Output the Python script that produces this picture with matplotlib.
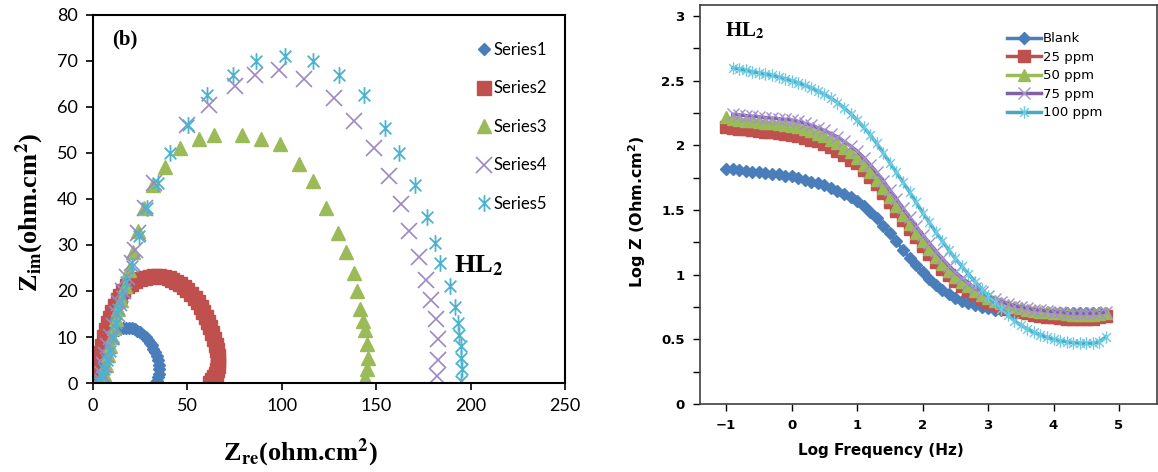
import matplotlib
matplotlib.use("Agg")
import matplotlib.pyplot as plt
from matplotlib.path import Path

plt.rcParams["font.family"] = ["Lato", "DejaVu Sans"]
plt.rcParams["mathtext.fontset"] = "stix"

# ---------------- Nyquist data (left panel) ----------------
s1_re = [1.5, 2, 2.5, 3, 3.5, 4, 5, 6, 7, 8, 9, 10, 11.5, 13, 14.5, 16, 17.5, 19, 20.5, 22,
         23.5, 25, 26.5, 28, 29, 30, 31, 32, 33, 33.8, 34.5, 35, 35.2, 35, 34.5, 33.8, 33]
s1_im = [0, 1.5, 3, 4.2, 5.3, 6.3, 7.5, 8.3, 9, 9.7, 10.3, 10.8, 11.3, 11.6, 11.9, 12, 12, 12, 11.9, 11.7,
         11.3, 11, 10.5, 9.9, 9.4, 8.8, 8.2, 7.5, 6.7, 5.8, 4.9, 3.9, 3, 2, 1.2, 0.5, 0]

s2_re = [2.5, 3, 3.5, 4, 4.5, 5, 6, 7, 8, 9, 10, 11.5, 13, 14.5, 16, 18, 20, 22.5, 25, 27.5,
         30, 32.5, 35, 37.5, 40, 42, 44, 46, 48, 50, 52, 54, 55.5, 57, 58.5, 60, 61, 62, 63, 64,
         65, 65.5, 66, 66, 66, 65.5, 65, 64, 63, 62]
s2_im = [0, 2, 3.5, 5, 6.5, 8, 10, 11.5, 13, 14.2, 15.5, 16.8, 18, 19, 20, 21, 21.5, 22.2, 22.6, 22.9,
         23.1, 23.2, 23.2, 23.1, 22.8, 22.4, 22, 21.5, 20.9, 20.2, 19.4, 18.5, 17.6, 16.6, 15.5, 14.4, 13.3, 12.1, 10.9, 9.6,
         8.3, 7.1, 5.9, 4.8, 3.8, 2.9, 2, 1.2, 0.6, 0]

s3_re = [5, 6, 7, 8, 9, 10, 11, 12, 13.5, 15, 17, 19, 21, 24, 27, 32, 38, 46, 56, 64,
         79, 89, 99, 109, 116.5, 123.5, 130, 134, 138.5, 140, 141.5, 143, 144, 145, 145.5, 145, 144]
s3_im = [0.5, 2, 4, 6, 8, 10, 12, 14, 16, 18, 21, 24.5, 28.5, 33, 38, 43, 47, 51, 53, 54,
         54, 53, 52, 47.5, 44, 38, 32.5, 28.5, 24, 20, 16, 13.5, 11.5, 8.5, 5.5, 3, 1]

s4_re = [4, 5, 6, 7, 8, 9.5, 11, 12.5, 14, 16, 18, 20.5, 22, 24, 27.5, 32.5, 50, 61.5, 75, 86,
         98.5, 112, 127.5, 138, 149, 157, 163, 167.5, 172.5, 176.5, 179, 181.5, 182.5, 182.5, 182]
s4_im = [0.5, 2, 4, 6, 8, 10, 12.5, 15, 17.5, 20, 23, 26, 29, 32.5, 38, 43.5, 56, 60.5, 64.5, 67,
         68, 66, 62, 57, 51, 45, 39, 33, 27.5, 22.5, 18, 14, 9.5, 5, 1.5]

s5_re = [3, 5, 6, 7.5, 9, 10.5, 12, 13.5, 15.5, 17.5, 20.5, 24.5, 28.5, 34.5, 41, 50.5, 60.5, 74, 86.5,
         101.5, 116.5, 130.5, 143.5, 154.5, 162, 170.5, 177, 181, 184, 189, 191.5, 193.5, 194, 195, 195, 195.5, 195]
s5_im = [0.2, 1.5, 3, 5, 7, 10, 13, 16, 19, 22, 25.5, 32, 38, 43.5, 50, 56, 62.5, 67, 70,
         71, 70, 67, 62.5, 55.5, 50, 43, 36, 30.5, 26, 21, 16.5, 13, 10.5, 8, 5.5, 3, 0.5]

series_names = ["Series1", "Series2", "Series3", "Series4", "Series5"]

# ---------------- Bode data (right panel) ----------------
log_freq = [-1.0, -0.9, -0.8, -0.7, -0.6, -0.5, -0.4, -0.3, -0.2, -0.1,
            0.0, 0.1, 0.2, 0.3, 0.4, 0.5, 0.6, 0.7, 0.8, 0.9,
            1.0, 1.1, 1.2, 1.3, 1.4, 1.5, 1.6, 1.7, 1.8, 1.9,
            2.0, 2.1, 2.2, 2.3, 2.4, 2.5, 2.6, 2.7, 2.8, 2.9,
            3.0, 3.1, 3.2, 3.3, 3.4, 3.5, 3.6, 3.7, 3.8, 3.9,
            4.0, 4.1, 4.2, 4.3, 4.4, 4.5, 4.6, 4.7, 4.8]

logz_blank = [1.82, 1.815, 1.81, 1.80, 1.795, 1.79, 1.785, 1.78, 1.775, 1.765,
              1.76, 1.75, 1.735, 1.72, 1.705, 1.69, 1.67, 1.65, 1.62, 1.60,
              1.57, 1.53, 1.485, 1.435, 1.38, 1.32, 1.26, 1.19, 1.13, 1.075,
              1.02, 0.97, 0.92, 0.88, 0.85, 0.82, 0.80, 0.78, 0.765, 0.75,
              0.74, 0.73, 0.725, 0.72, 0.715, 0.71, 0.705, 0.70, 0.70, 0.70,
              0.70, 0.70, 0.70, 0.70, 0.70, 0.70, 0.70, 0.70, 0.70]
logz_25 = [2.14, 2.135, 2.13, 2.125, 2.115, 2.11, 2.105, 2.10, 2.095, 2.085,
           2.08, 2.07, 2.06, 2.045, 2.03, 2.01, 1.985, 1.955, 1.925, 1.89,
           1.86, 1.81, 1.755, 1.70, 1.63, 1.56, 1.49, 1.42, 1.355, 1.29,
           1.22, 1.16, 1.10, 1.04, 0.995, 0.95, 0.91, 0.875, 0.845, 0.815,
           0.79, 0.77, 0.75, 0.735, 0.72, 0.71, 0.70, 0.69, 0.68, 0.675,
           0.67, 0.665, 0.66, 0.655, 0.655, 0.655, 0.66, 0.67, 0.68]
logz_50 = [2.22, 2.20, 2.195, 2.19, 2.185, 2.18, 2.175, 2.17, 2.165, 2.16,
           2.15, 2.14, 2.13, 2.11, 2.09, 2.07, 2.045, 2.015, 1.98, 1.945,
           1.90, 1.85, 1.795, 1.735, 1.67, 1.60, 1.53, 1.46, 1.39, 1.325,
           1.26, 1.195, 1.135, 1.08, 1.03, 0.985, 0.945, 0.91, 0.875, 0.845,
           0.82, 0.80, 0.78, 0.765, 0.75, 0.74, 0.73, 0.72, 0.715, 0.71,
           0.705, 0.70, 0.695, 0.69, 0.69, 0.69, 0.69, 0.695, 0.70]
logz_75 = [2.24, 2.235, 2.23, 2.225, 2.22, 2.215, 2.21, 2.205, 2.20,
           2.195, 2.185, 2.17, 2.155, 2.135, 2.115, 2.09, 2.065, 2.03, 1.995,
           1.955, 1.905, 1.85, 1.79, 1.725, 1.655, 1.585, 1.515, 1.445, 1.375,
           1.31, 1.245, 1.185, 1.125, 1.07, 1.02, 0.975, 0.935, 0.895, 0.865,
           0.835, 0.81, 0.79, 0.775, 0.76, 0.75, 0.74, 0.73, 0.725, 0.72,
           0.715, 0.71, 0.705, 0.70, 0.70, 0.70, 0.70, 0.705, 0.71]
logz_100 = [2.60, 2.59, 2.58, 2.57, 2.56, 2.55, 2.54, 2.53, 2.515,
            2.50, 2.485, 2.465, 2.445, 2.42, 2.395, 2.365, 2.33, 2.29, 2.245,
            2.195, 2.14, 2.08, 2.015, 1.94, 1.865, 1.79, 1.715, 1.64, 1.56,
            1.48, 1.405, 1.33, 1.26, 1.19, 1.125, 1.065, 1.005, 0.945, 0.89,
            0.835, 0.785, 0.735, 0.69, 0.645, 0.61, 0.58, 0.555, 0.535, 0.515,
            0.50, 0.49, 0.48, 0.475, 0.47, 0.47, 0.47, 0.48, 0.52]

conc_labels = ["Blank", "25 ppm", "50 ppm", "75 ppm", "100 ppm"]

# asterisk marker like the spreadsheet one (x with a vertical bar)
star = Path([(0, -1), (0, 1), (-0.7, -0.7), (0.7, 0.7), (-0.7, 0.7), (0.7, -0.7)],
            [Path.MOVETO, Path.LINETO, Path.MOVETO, Path.LINETO, Path.MOVETO, Path.LINETO])

fig = plt.figure(figsize=(11.58, 4.72), dpi=100)
W, H = 1158, 472

# ---------------- left: Nyquist ----------------
ax1 = fig.add_axes([93 / W, 1 - 383 / H, (565 - 93) / W, (383 - 15) / H])
ax1.plot(s1_re, s1_im, ls="none", marker="D", ms=6, color="#4a7ebb", label=series_names[0])
ax1.plot(s2_re, s2_im, ls="none", marker="s", ms=10, color="#c0504d", label=series_names[1])
ax1.plot(s3_re, s3_im, ls="none", marker="^", ms=10, color="#9bbb59", label=series_names[2])
ax1.plot(s4_re, s4_im, ls="none", marker="x", ms=11, mew=1.2, color="#9d88c4", label=series_names[3])
ax1.plot(s5_re, s5_im, ls="none", marker=star, ms=12, mew=1.3, color="#4bb3cf", label=series_names[4])

ax1.set_xlim(0, 250)
ax1.set_ylim(0, 80)
ax1.set_xticks(range(0, 251, 50))
ax1.set_yticks(range(0, 81, 10))
ax1.tick_params(direction="out", length=5, width=1.2, labelsize=13, pad=6)
for sp in ax1.spines.values():
    sp.set_linewidth(1.5)

serif_bold = dict(family="Liberation Serif", fontweight="bold", fontsize=19)
fig.text(300 / W, 1 - 453 / H, r"Z$_{\mathbf{re}}$(ohm.cm$^{\mathbf{2}}$)",
         ha="center", va="center", **serif_bold)
fig.text(30 / W, 1 - 212 / H, r"Z$_{\mathbf{im}}$(ohm.cm$^{\mathbf{2}}$)",
         ha="center", va="center", rotation=90, **serif_bold)
ax1.text(0.04, 0.92, "(b)", transform=ax1.transAxes, fontsize=15, fontweight="bold",
         family="Liberation Serif")
ax1.text(0.765, 0.3, r"HL$_{\mathbf{2}}$", transform=ax1.transAxes, **serif_bold)
ax1.legend(loc="upper left", bbox_to_anchor=(0.8, 0.945), frameon=False, fontsize=12,
           labelspacing=1.35, handlelength=0.8, handletextpad=0.2, borderaxespad=0)

# ---------------- right: Bode ----------------
ax2 = fig.add_axes([700 / W, 1 - 404 / H, (1157 - 700) / W, (404 - 5) / H])
ax2.plot(log_freq, logz_blank, color="#4a7ebb", lw=2.5, marker="D", ms=6.5, label=conc_labels[0])
ax2.plot(log_freq, logz_25, color="#c0504d", lw=2.5, marker="s", ms=8.5, label=conc_labels[1])
ax2.plot(log_freq, logz_50, color="#9bbb59", lw=2.5, marker="^", ms=8.5, label=conc_labels[2])
ax2.plot(log_freq[1:], logz_75, color="#7f62a1", lw=2.5, marker="x", ms=8,
         mec="#a58fd0", mew=1.0, label=conc_labels[3])
ax2.plot(log_freq[1:], logz_100, color="#45a8c4", lw=2.5, marker=star, ms=9,
         mec="#6ccbe3", mew=1.0, label=conc_labels[4])

ax2.set_xlim(-1.4, 5.58)
ax2.set_ylim(0, 3.085)
ax2.set_xticks(range(-1, 6))
ax2.set_yticks([0, 0.5, 1, 1.5, 2, 2.5, 3])
ax2.set_yticklabels(["0", "0.5", "1", "1.5", "2", "2.5", "3"])
ax2.set_yticks([0.25, 0.75, 1.25, 1.75, 2.25, 2.75], minor=True)
ax2.tick_params(direction="out", length=5, width=1.0, labelsize=9.5, pad=6)
ax2.tick_params(which="minor", direction="out", length=5, width=1.0)
for lab in ax2.get_xticklabels() + ax2.get_yticklabels():
    lab.set_fontweight("bold")
    lab.set_family("DejaVu Sans")
for sp in ax2.spines.values():
    sp.set_linewidth(1.2)
    sp.set_color("#404040")

fig.text(881 / W, 1 - 450 / H, "Log Frequency (Hz)", ha="center", va="center",
         fontsize=11, fontweight="bold", family="DejaVu Sans")
fig.text(637 / W, 1 - 212 / H, r"Log Z (Ohm.cm$\mathbf{^2}$)", ha="center", va="center",
         rotation=90, fontsize=11.5, fontweight="bold", family="DejaVu Sans",
         math_fontfamily="dejavusans")
ax2.text(0.055, 0.935, r"HL$_{\mathbf{2}}$", transform=ax2.transAxes, va="center",
         family="Liberation Serif", fontweight="bold", fontsize=15)
ax2.legend(loc="upper left", bbox_to_anchor=(0.66, 0.945), frameon=False,
           prop={"family": "DejaVu Sans", "size": 9.5},
           labelspacing=0.42, handlelength=2.6, handletextpad=0.1, borderaxespad=0)

fig.savefig("out.png", dpi=100)
